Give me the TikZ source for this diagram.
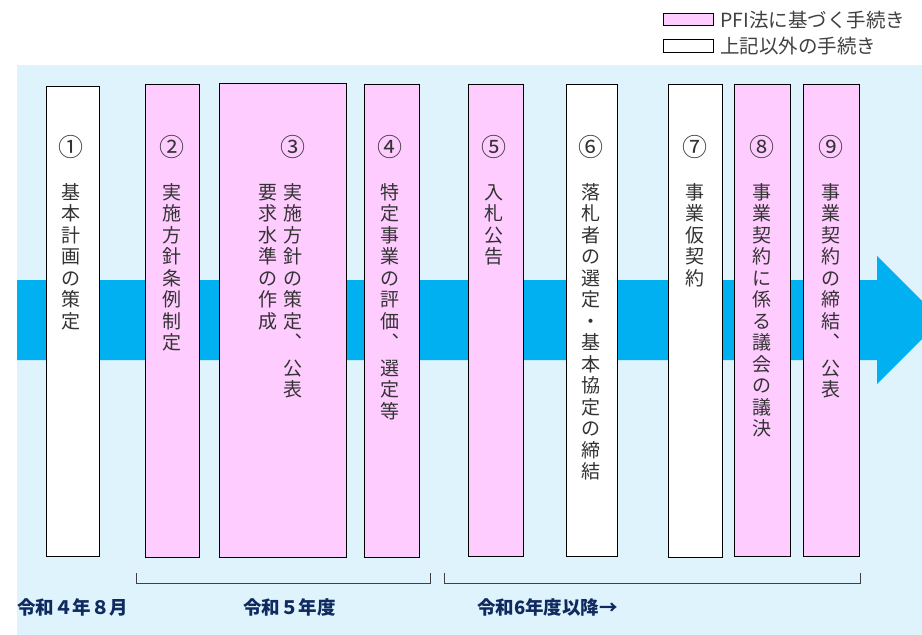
\documentclass[tikz,border=0pt]{standalone}
\usepackage{fontspec}
\setmainfont{Noto Sans CJK JP}

\definecolor{pfipink}{HTML}{FFCCFF}
\definecolor{skyback}{HTML}{DEF3FC}
\definecolor{bandblue}{HTML}{00B0F0}
\definecolor{navytext}{HTML}{0F2A5F}

\newcommand\maru[1]{{\fontsize{25}{21.5}\selectfont #1}}

\tikzset{
  procbox/.style={draw, line width=1.4pt, anchor=north west, inner sep=0pt},
  pfibox/.style={procbox, fill=pfipink},
  otherbox/.style={procbox, fill=white},
  tate/.style={align=center, inner sep=0pt, anchor=north, text=black!80,
    font=\fontsize{19}{21.5}\selectfont},
  yearlabel/.style={anchor=west, inner sep=0pt, text=navytext,
    font=\fontsize{18.5}{20}\selectfont\bfseries},
  legendtext/.style={anchor=west, inner sep=0pt, text=black!75,
    font=\fontsize{19.5}{22}\selectfont}
}

\begin{document}
\begin{tikzpicture}[x=1pt,y=-1pt]
\useasboundingbox (0,0) rectangle (922,635);
\clip (0,0) rectangle (922,635);

% background and time arrow
\fill[skyback] (17,65) rectangle (922,635);
\fill[bandblue] (17,280) -- (877,280) -- (877,256) -- (941,320)
  -- (877,384) -- (877,360) -- (17,360) -- cycle;

% legend
\node[pfibox, minimum width=50pt, minimum height=12pt, line width=1.2pt] (legpfi) at (663,13) {};
\node[otherbox, minimum width=50pt, minimum height=13pt, line width=1.2pt] (legother) at (663,39) {};
\node[legendtext] (legpfitext) at ([xshift=6pt]legpfi.east) {PFI法に基づく手続き};
\node[legendtext] (legothertext) at ([xshift=6pt]legother.east) {上記以外の手続き};

% procedure boxes
\node[otherbox, minimum width=53pt,  minimum height=470pt] (b1) at (46,86) {};
\node[pfibox,   minimum width=54pt,  minimum height=473pt] (b2) at (145,84) {};
\node[pfibox,   minimum width=127pt, minimum height=474pt] (b3) at (219,83) {};
\node[pfibox,   minimum width=55pt,  minimum height=473pt] (b4) at (364,84) {};
\node[pfibox,   minimum width=55pt,  minimum height=472pt] (b5) at (468,84) {};
\node[otherbox, minimum width=51pt,  minimum height=472pt] (b6) at (566,84) {};
\node[otherbox, minimum width=54pt,  minimum height=473pt] (b7) at (668,84) {};
\node[pfibox,   minimum width=56pt,  minimum height=472pt] (b8) at (734,84) {};
\node[pfibox,   minimum width=56pt,  minimum height=472pt] (b9) at (803,84) {};

% vertical texts
\coordinate (textline) at (0,135);
\node[tate] (t1) at ([xshift=-2pt]b1.center |- textline)
  {\maru{①}\\[21.5pt]基\\本\\計\\画\\の\\策\\定};
\node[tate] (t2) at ([xshift=-1pt]b2.center |- textline)
  {\maru{②}\\[21.5pt]実\\施\\方\\針\\条\\例\\制\\定};
\node[tate] (t3a) at ([xshift=10pt]b3.center |- textline)
  {\maru{③}\\[21.5pt]実\\施\\方\\針\\の\\策\\定\\︑\\[4pt]公\\表};
\node[tate] (t3b) at ([xshift=-15pt]b3.center |- textline)
  {\maru{\phantom{③}}\\[21.5pt]要\\求\\水\\準\\の\\作\\成};
\node[tate] (t4) at ([xshift=-2pt]b4.center |- textline)
  {\maru{④}\\[21.5pt]特\\定\\事\\業\\の\\評\\価\\︑\\[4pt]選\\定\\等};
\node[tate] (t5) at ([xshift=-2pt]b5.center |- textline)
  {\maru{⑤}\\[21.5pt]入\\札\\公\\告};
\node[tate] (t6) at ([xshift=-1pt]b6.center |- textline)
  {\maru{⑥}\\[21.5pt]落\\札\\者\\の\\選\\定\\・\\基\\本\\協\\定\\の\\締\\結};
\node[tate] (t7) at ([xshift=-1pt]b7.center |- textline)
  {\maru{⑦}\\[21.5pt]事\\業\\仮\\契\\約};
\node[tate] (t8) at ([xshift=-1pt]b8.center |- textline)
  {\maru{⑧}\\[21.5pt]事\\業\\契\\約\\に\\係\\る\\議\\会\\の\\議\\決};
\node[tate] (t9) at ([xshift=-1pt]b9.center |- textline)
  {\maru{⑨}\\[21.5pt]事\\業\\契\\約\\の\\締\\結\\︑\\[4pt]公\\表};

% period brackets
\draw[black!75, line width=0.9pt] (136,573) -- (136,583) -- (430,583) -- (430,573);
\draw[black!75, line width=0.9pt] (444,573) -- (444,583) -- (860,583) -- (860,573);

% period labels
\node[yearlabel] (y4) at (17,607) {令和４年８月};
\node[yearlabel] (y5) at (243,607) {令和５年度};
\node[yearlabel] (y6) at (477,607) {令和6年度以降→};
\end{tikzpicture}
\end{document}
